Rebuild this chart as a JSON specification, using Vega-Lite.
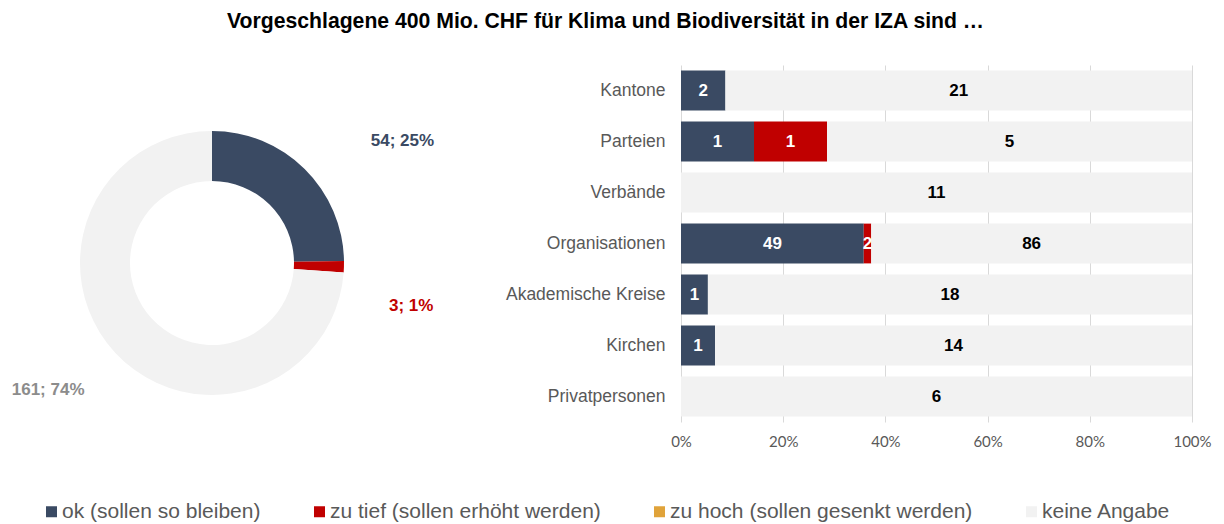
{
  "$schema": "https://vega.github.io/schema/vega-lite/v6.json",
  "background": "white",
  "padding": {"left": 0, "top": 10, "right": 0, "bottom": 0},
  "title": {"text": "Vorgeschlagene 400 Mio. CHF für Klima und Biodiversität in der IZA sind …", "font": "Liberation Sans", "fontSize": 21.2, "fontWeight": "bold", "color": "#000000", "anchor": "middle", "offset": 33},
  "bounds": "flush",
  "spacing": 257,
  "config": {"view": {"stroke": null}, "font": "Liberation Sans"},
  "datasets": {
    "total": [
      {"cat": "ok (sollen so bleiben)", "n": 54, "o": 1, "label": "54; 25%"},
      {"cat": "zu tief (sollen erhöht werden)", "n": 3, "o": 2, "label": "3; 1%"},
      {"cat": "zu hoch (sollen gesenkt werden)", "n": 0, "o": 3, "label": ""},
      {"cat": "keine Angabe", "n": 161, "o": 4, "label": "161; 74%"}
    ],
    "groups": [
      {"g": "Kantone", "cat": "ok (sollen so bleiben)", "n": 2, "o": 1},
      {"g": "Kantone", "cat": "zu tief (sollen erhöht werden)", "n": 0, "o": 2},
      {"g": "Kantone", "cat": "zu hoch (sollen gesenkt werden)", "n": 0, "o": 3},
      {"g": "Kantone", "cat": "keine Angabe", "n": 21, "o": 4},
      {"g": "Parteien", "cat": "ok (sollen so bleiben)", "n": 1, "o": 1},
      {"g": "Parteien", "cat": "zu tief (sollen erhöht werden)", "n": 1, "o": 2},
      {"g": "Parteien", "cat": "zu hoch (sollen gesenkt werden)", "n": 0, "o": 3},
      {"g": "Parteien", "cat": "keine Angabe", "n": 5, "o": 4},
      {"g": "Verbände", "cat": "ok (sollen so bleiben)", "n": 0, "o": 1},
      {"g": "Verbände", "cat": "zu tief (sollen erhöht werden)", "n": 0, "o": 2},
      {"g": "Verbände", "cat": "zu hoch (sollen gesenkt werden)", "n": 0, "o": 3},
      {"g": "Verbände", "cat": "keine Angabe", "n": 11, "o": 4},
      {"g": "Organisationen", "cat": "ok (sollen so bleiben)", "n": 49, "o": 1},
      {"g": "Organisationen", "cat": "zu tief (sollen erhöht werden)", "n": 2, "o": 2},
      {"g": "Organisationen", "cat": "zu hoch (sollen gesenkt werden)", "n": 0, "o": 3},
      {"g": "Organisationen", "cat": "keine Angabe", "n": 86, "o": 4},
      {"g": "Akademische Kreise", "cat": "ok (sollen so bleiben)", "n": 1, "o": 1},
      {"g": "Akademische Kreise", "cat": "zu tief (sollen erhöht werden)", "n": 0, "o": 2},
      {"g": "Akademische Kreise", "cat": "zu hoch (sollen gesenkt werden)", "n": 0, "o": 3},
      {"g": "Akademische Kreise", "cat": "keine Angabe", "n": 18, "o": 4},
      {"g": "Kirchen", "cat": "ok (sollen so bleiben)", "n": 1, "o": 1},
      {"g": "Kirchen", "cat": "zu tief (sollen erhöht werden)", "n": 0, "o": 2},
      {"g": "Kirchen", "cat": "zu hoch (sollen gesenkt werden)", "n": 0, "o": 3},
      {"g": "Kirchen", "cat": "keine Angabe", "n": 14, "o": 4},
      {"g": "Privatpersonen", "cat": "ok (sollen so bleiben)", "n": 0, "o": 1},
      {"g": "Privatpersonen", "cat": "zu tief (sollen erhöht werden)", "n": 0, "o": 2},
      {"g": "Privatpersonen", "cat": "zu hoch (sollen gesenkt werden)", "n": 0, "o": 3},
      {"g": "Privatpersonen", "cat": "keine Angabe", "n": 6, "o": 4}
    ]
  },
  "resolve": {"scale": {"color": "shared"}, "legend": {"color": "shared"}},
  "hconcat": [
    {
      "width": 424,
      "height": 396,
      "data": {"name": "total"},
      "encoding": {
        "theta": {"field": "n", "type": "quantitative", "stack": true},
        "order": {"field": "o", "type": "quantitative"},
        "detail": {"field": "cat"}
      },
      "layer": [
        {
          "mark": {"type": "arc", "innerRadius": 82, "outerRadius": 132},
          "encoding": {
            "color": {"field": "cat", "type": "nominal",
              "scale": {"domain": ["ok (sollen so bleiben)", "zu tief (sollen erhöht werden)", "zu hoch (sollen gesenkt werden)", "keine Angabe"], "range": ["#3A4A63", "#C00000", "#E0A33A", "#F2F2F2"]},
              "legend": {"orient": "none", "legendX": 41, "legendY": 436, "direction": "horizontal", "title": null, "symbolType": "square", "symbolSize": 121, "symbolStrokeWidth": 0, "symbolOpacity": 1, "labelFontSize": 21, "labelFont": "Liberation Sans", "labelColor": "#595959", "labelOffset": 0, "labelLimit": 500, "columnPadding": 48}}
          }
        },
        {
          "mark": {"type": "text", "radius": 172, "dx": 38, "align": "left", "baseline": "middle", "fontSize": 17, "fontWeight": "bold", "color": "#3A4A63"},
          "encoding": {"text": {"condition": {"test": "datum.o === 1", "field": "label"}, "value": ""}}
        },
        {
          "mark": {"type": "text", "radius": 177, "dy": 38, "align": "left", "baseline": "middle", "fontSize": 17, "fontWeight": "bold", "color": "#C00000"},
          "encoding": {"text": {"condition": {"test": "datum.o === 2", "field": "label"}, "value": ""}}
        },
        {
          "mark": {"type": "text", "radius": 170, "dx": -3, "dy": 11, "align": "right", "baseline": "middle", "fontSize": 17, "fontWeight": "bold", "color": "#8C8C8C"},
          "encoding": {"text": {"condition": {"test": "datum.o === 4", "field": "label"}, "value": ""}}
        }
      ]
    },
    {
      "width": 511,
      "height": 357,
      "data": {"name": "groups"},
      "encoding": {
        "y": {"field": "g", "type": "nominal",
          "sort": ["Kantone", "Parteien", "Verbände", "Organisationen", "Akademische Kreise", "Kirchen", "Privatpersonen"],
          "scale": {"paddingInner": 0.22, "paddingOuter": 0.11},
          "axis": {"title": null, "domain": false, "ticks": false, "labelPadding": 16, "labelFontSize": 17.5, "labelColor": "#595959", "labelFont": "Liberation Sans"}},
        "x": {"field": "n", "type": "quantitative", "stack": "normalize",
          "axis": {"title": null, "format": ".0%", "values": [0, 0.2, 0.4, 0.6, 0.8, 1], "domain": false, "ticks": false, "grid": true, "gridColor": "#D9D9D9", "labelFontSize": 15, "labelFont": "Lato", "labelColor": "#595959", "labelPadding": 12, "labelFlush": false}},
        "order": {"field": "o", "type": "quantitative"},
        "detail": {"field": "cat"}
      },
      "layer": [
        {
          "mark": {"type": "bar"},
          "encoding": {
            "color": {"field": "cat", "type": "nominal",
              "scale": {"domain": ["ok (sollen so bleiben)", "zu tief (sollen erhöht werden)", "zu hoch (sollen gesenkt werden)", "keine Angabe"], "range": ["#3A4A63", "#C00000", "#E0A33A", "#F2F2F2"]},
              "legend": {"orient": "none", "legendX": 41, "legendY": 436, "direction": "horizontal", "title": null, "symbolType": "square", "symbolSize": 121, "symbolStrokeWidth": 0, "symbolOpacity": 1, "labelFontSize": 21, "labelFont": "Liberation Sans", "labelColor": "#595959", "labelOffset": 0, "labelLimit": 500, "columnPadding": 48}}
          }
        },
        {
          "transform": [{"filter": "datum.n > 0"}],
          "mark": {"type": "text", "fontSize": 17, "fontWeight": "bold", "baseline": "middle"},
          "encoding": {
            "x": {"field": "n", "type": "quantitative", "stack": "normalize", "bandPosition": 0.5},
            "text": {"field": "n", "type": "quantitative"},
            "color": {"condition": {"test": "datum.cat === 'keine Angabe'", "value": "#000000"}, "value": "#FFFFFF"}
          }
        }
      ]
    }
  ]
}
